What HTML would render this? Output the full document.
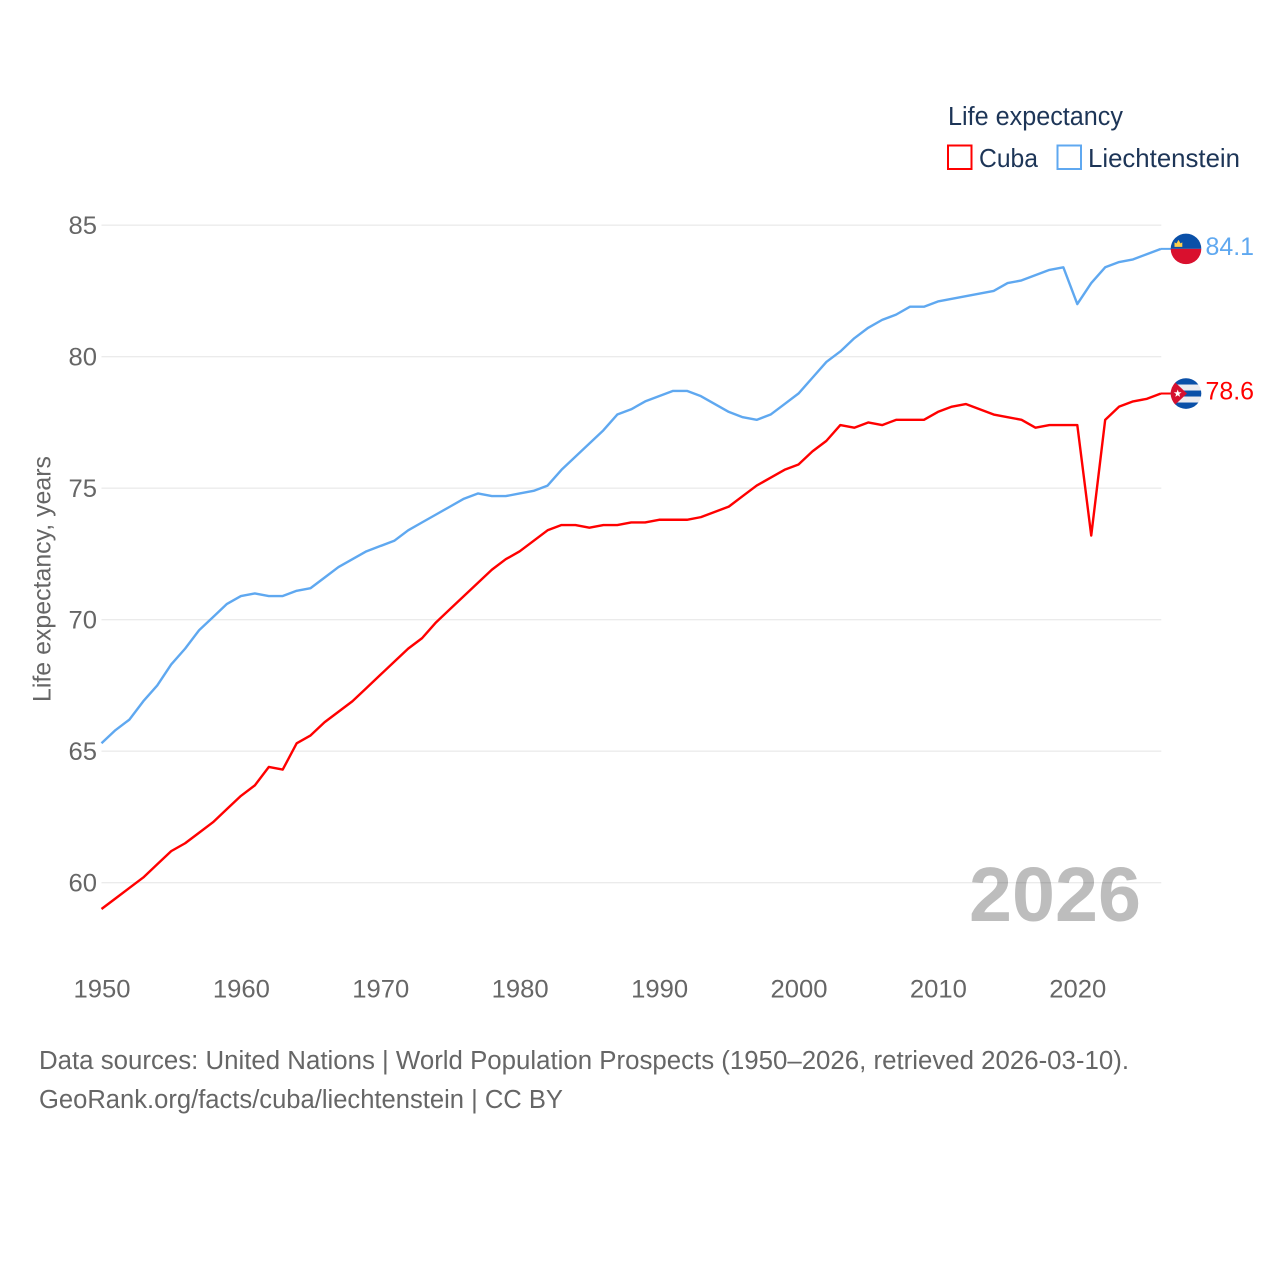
<!DOCTYPE html>
<html lang="en">
<head>
<meta charset="utf-8">
<title>Life expectancy: Cuba and Liechtenstein</title>
<style>
html,body{margin:0;padding:0;background:#fff;}
svg{display:block;}
text{font-family:"Liberation Sans",sans-serif;}
</style>
</head>
<body>
<svg id="chart" width="1280" height="1280" viewBox="0 0 1280 1280" xmlns="http://www.w3.org/2000/svg">
  <defs>
    <clipPath id="flag-clip"><circle cx="0" cy="0" r="15.3"></circle></clipPath>
  </defs>
  <rect width="1280" height="1280" fill="#ffffff"></rect>
  <text x="969" y="921" font-size="77" font-weight="700" fill="#bdbdbd" textLength="172" lengthAdjust="spacingAndGlyphs">2026</text>
  <g id="grid"></g>
  <g id="y-ticks"></g>
  <g id="x-ticks"></g>
  <text transform="translate(50.5,702) rotate(-90)" font-size="25" fill="#666666" textLength="246" lengthAdjust="spacingAndGlyphs">Life expectancy, years</text>
  <g id="series"></g>
  <g id="end-markers"></g>
  <g>
    <text x="948" y="125" font-size="25.5" fill="#1d3557" textLength="175" lengthAdjust="spacingAndGlyphs">Life expectancy</text>
    <rect x="948" y="145.5" width="23.5" height="23.5" fill="#ffffff" stroke="#ff0000" stroke-width="2"></rect>
    <text x="979" y="167" font-size="26" fill="#1d3557" textLength="59" lengthAdjust="spacingAndGlyphs">Cuba</text>
    <rect x="1057.5" y="145.5" width="23.5" height="23.5" fill="#ffffff" stroke="#5fa8f0" stroke-width="2"></rect>
    <text x="1088" y="167" font-size="26" fill="#1d3557" textLength="152" lengthAdjust="spacingAndGlyphs">Liechtenstein</text>
  </g>
  <text x="39" y="1069" font-size="25.5" fill="#666666" textLength="1090" lengthAdjust="spacingAndGlyphs">Data sources: United Nations | World Population Prospects (1950–2026, retrieved 2026-03-10).</text>
  <text x="39" y="1108" font-size="25.5" fill="#666666" textLength="524" lengthAdjust="spacingAndGlyphs">GeoRank.org/facts/cuba/liechtenstein | CC BY</text>
</svg>
<script>
const startYear = 1950;
const yTicks = [60, 65, 70, 75, 80, 85];
const xTicks = [1950, 1960, 1970, 1980, 1990, 2000, 2010, 2020];
const cubaValues = [59.0,59.4,59.8,60.2,60.7,61.2,61.5,61.9,62.3,62.8,63.3,63.7,64.4,64.3,65.3,65.6,66.1,66.5,66.9,67.4,67.9,68.4,68.9,69.3,69.9,70.4,70.9,71.4,71.9,72.3,72.6,73.0,73.4,73.6,73.6,73.5,73.6,73.6,73.7,73.7,73.8,73.8,73.8,73.9,74.1,74.3,74.7,75.1,75.4,75.7,75.9,76.4,76.8,77.4,77.3,77.5,77.4,77.6,77.6,77.6,77.9,78.1,78.2,78.0,77.8,77.7,77.6,77.3,77.4,77.4,77.4,73.2,77.6,78.1,78.3,78.4,78.6];
const liechtensteinValues = [65.3,65.8,66.2,66.9,67.5,68.3,68.9,69.6,70.1,70.6,70.9,71.0,70.9,70.9,71.1,71.2,71.6,72.0,72.3,72.6,72.8,73.0,73.4,73.7,74.0,74.3,74.6,74.8,74.7,74.7,74.8,74.9,75.1,75.7,76.2,76.7,77.2,77.8,78.0,78.3,78.5,78.7,78.7,78.5,78.2,77.9,77.7,77.6,77.8,78.2,78.6,79.2,79.8,80.2,80.7,81.1,81.4,81.6,81.9,81.9,82.1,82.2,82.3,82.4,82.5,82.8,82.9,83.1,83.3,83.4,82.0,82.8,83.4,83.6,83.7,83.9,84.1];

const NS = 'http://www.w3.org/2000/svg';
const xScale = function (year) { return 101.5 + (year - 1950) * 13.94; };
const yScale = function (value) { return 225.2 + (85 - value) * 26.3; };

function make(parent, tag, attrs, content) {
  const el = document.createElementNS(NS, tag);
  for (const key in attrs) el.setAttribute(key, attrs[key]);
  if (content !== undefined) el.textContent = content;
  parent.appendChild(el);
  return el;
}

const gridGroup = document.getElementById('grid');
const yTickGroup = document.getElementById('y-ticks');
const xTickGroup = document.getElementById('x-ticks');
const seriesGroup = document.getElementById('series');
const markerGroup = document.getElementById('end-markers');

yTicks.forEach(function (tick) {
  const y = yScale(tick);
  const line = make(gridGroup, 'line', { x1: 101.5, x2: 1161.3, y1: y, y2: y, stroke: '#000000', 'stroke-opacity': 0.08, 'stroke-width': 1.3 });
  
  
  const label = make(yTickGroup, 'text', { x: 68.5, y: y + 8.9, 'font-size': 25, fill: '#666666', textLength: 28.5, lengthAdjust: 'spacingAndGlyphs' }, String(tick));
  
  
});

xTicks.forEach(function (tick) {
  const label = make(xTickGroup, 'text', { x: xScale(tick) - 28, y: 997.5, 'font-size': 25, fill: '#666666', textLength: 57, lengthAdjust: 'spacingAndGlyphs' }, String(tick));
  
  
});

function linePoints(values) {
  return values.map(function (value, i) {
    return xScale(startYear + i).toFixed(2) + ',' + yScale(value).toFixed(2);
  }).join(' ');
}

const cubaLine = make(seriesGroup, 'polyline', { points: linePoints(cubaValues), fill: 'none', stroke: '#ff0000', 'stroke-width': 2.4, 'stroke-linejoin': 'round' });


const liLine = make(seriesGroup, 'polyline', { points: linePoints(liechtensteinValues), fill: 'none', stroke: '#5fa8f0', 'stroke-width': 2.4, 'stroke-linejoin': 'round' });



function endConnector(values, color) {
  const last = values[values.length - 1];
  const y = yScale(last);
  return make(markerGroup, 'line', { x1: xScale(startYear + values.length - 1), x2: 1171, y1: y, y2: y, stroke: color, 'stroke-width': 2 });
}
function endLabel(values, color) {
  const last = values[values.length - 1];
  return make(markerGroup, 'text', { x: 1205.5, y: yScale(last) + 6, 'font-size': 25, fill: color, textLength: 48.5, lengthAdjust: 'spacingAndGlyphs' }, last.toFixed(1));
}

const cubaConnector = endConnector(cubaValues, '#ff0000');


const liConnector = endConnector(liechtensteinValues, '#5fa8f0');



const cubaLabel = endLabel(cubaValues, '#ff0000');


const liLabel = endLabel(liechtensteinValues, '#5fa8f0');



/* Liechtenstein flag */
const liFlag = make(markerGroup, 'g', { transform: 'translate(1186,' + yScale(liechtensteinValues[liechtensteinValues.length - 1]).toFixed(2) + ')', 'clip-path': 'url(#flag-clip)' });


make(liFlag, 'rect', { x: -16, y: -16, width: 32, height: 16, fill: '#0a50a8' });
make(liFlag, 'rect', { x: -16, y: 0, width: 32, height: 16, fill: '#d9102e' });
make(liFlag, 'path', { d: 'M-11.5,-2 L-11.5,-6.5 L-9.5,-5.5 L-7.5,-9 L-5.5,-5.5 L-3.7,-6.5 L-3.7,-2 Z', fill: '#ffd04a' });

/* Cuba flag */
const cuFlag = make(markerGroup, 'g', { transform: 'translate(1186,' + yScale(cubaValues[cubaValues.length - 1]).toFixed(2) + ')', 'clip-path': 'url(#flag-clip)' });


make(cuFlag, 'rect', { x: -16, y: -16, width: 32, height: 32, fill: '#ececf0' });
make(cuFlag, 'rect', { x: -16, y: -16, width: 32, height: 7, fill: '#0a50a8' });
make(cuFlag, 'rect', { x: -16, y: -3, width: 32, height: 6, fill: '#0a50a8' });
make(cuFlag, 'rect', { x: -16, y: 9, width: 32, height: 7, fill: '#0a50a8' });
make(cuFlag, 'path', { d: 'M-16,-16 L1,0 L-16,16 Z', fill: '#d5102f' });
make(cuFlag, 'path', { d: 'M-8.3,-4 L-7.3,-1.3 L-4.4,-1.3 L-6.7,0.5 L-5.9,3.3 L-8.3,1.7 L-10.7,3.3 L-9.9,0.5 L-12.2,-1.3 L-9.3,-1.3 Z', fill: '#ffffff' });
</script>
</body>
</html>
